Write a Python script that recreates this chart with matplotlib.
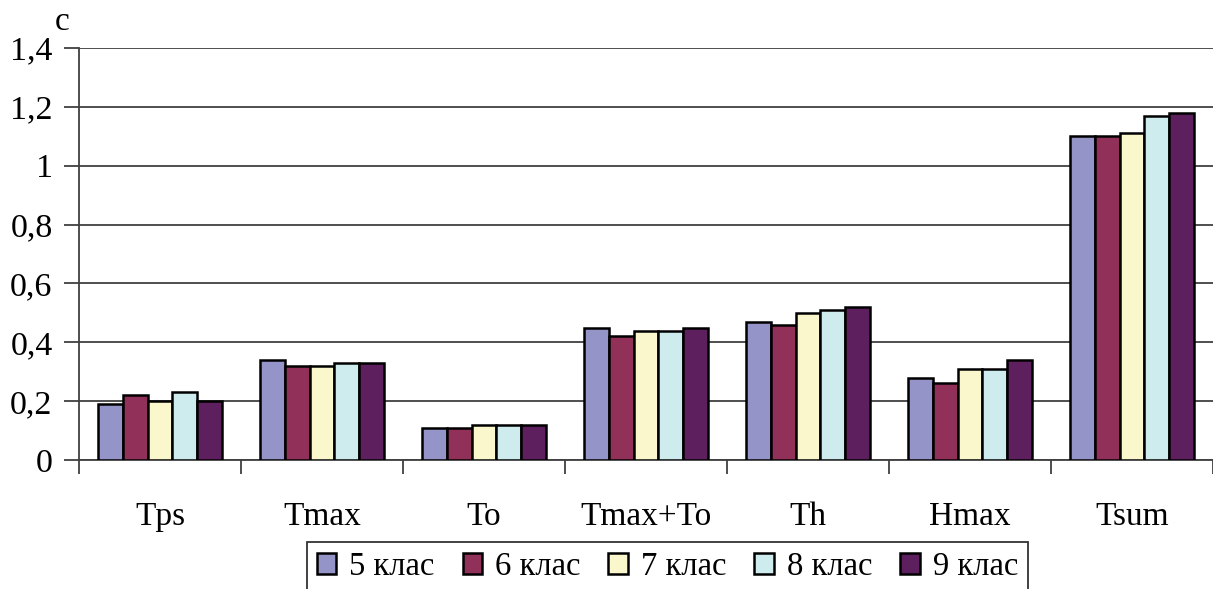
import numpy as np
import matplotlib.pyplot as plt
from matplotlib.ticker import FixedLocator, FuncFormatter

categories = ["Tps", "Tmax", "To", "Tmax+To", "Th", "Hmax", "Tsum"]
series_names = ["5 клас", "6 клас", "7 клас", "8 клас", "9 клас"]

grade_5 = [0.19, 0.34, 0.11, 0.45, 0.47, 0.28, 1.10]
grade_6 = [0.22, 0.32, 0.11, 0.42, 0.46, 0.26, 1.10]
grade_7 = [0.20, 0.32, 0.12, 0.44, 0.50, 0.31, 1.11]
grade_8 = [0.23, 0.33, 0.12, 0.44, 0.51, 0.31, 1.17]
grade_9 = [0.20, 0.33, 0.12, 0.45, 0.52, 0.34, 1.18]

y_ticks = [0, 0.2, 0.4, 0.6, 0.8, 1.0, 1.2, 1.4]

colors = ["#9494C8", "#913058", "#FAF7CD", "#CEEBEE", "#5E1F5E"]

plt.rcParams["font.family"] = ["Liberation Serif", "DejaVu Serif"]

fig = plt.figure(figsize=(12.13, 5.89), dpi=100)
ax = fig.add_axes([79 / 1213, 1 - 460 / 589, (1213 - 79) / 1213, 412 / 589])

all_series = [grade_5, grade_6, grade_7, grade_8, grade_9]
x = np.arange(len(categories))
bar_w = 1 / 6.5

for i, (name, vals) in enumerate(zip(series_names, all_series)):
    offset = (i - 2) * bar_w
    ax.bar(
        x + offset,
        vals,
        width=bar_w,
        color=colors[i],
        edgecolor="black",
        linewidth=1.8,
        label=name,
        zorder=3,
    )

ax.set_xlim(-0.5, len(categories) - 0.5)
ax.set_ylim(0, 1.4)

ax.set_yticks(y_ticks)
ax.yaxis.set_major_formatter(
    FuncFormatter(lambda v, p: f"{v:g}".replace(".", ","))
)
ax.grid(axis="y", color="#404040", linewidth=1.3, zorder=0)

ax.set_xticks(x)
ax.set_xticklabels(categories)
ax.xaxis.set_minor_locator(FixedLocator(np.arange(-0.5, len(categories), 1)))
ax.tick_params(axis="x", which="major", length=0, pad=30, labelsize=24)
ax.tick_params(axis="x", which="minor", length=10, width=1.3, color="#404040")
ax.tick_params(axis="y", length=11, width=1.3, color="#404040", labelsize=24.5, pad=8)

for side in ["top", "right"]:
    ax.spines[side].set_visible(False)
for side in ["left", "bottom"]:
    ax.spines[side].set_color("#404040")
    ax.spines[side].set_linewidth(1.3)

ax.text(-0.021, 1.044, "c", transform=ax.transAxes, fontsize=24, ha="left", va="baseline")

leg = fig.legend(
    loc="upper left",
    bbox_to_anchor=(307 / 1213, 1 - 542 / 589),
    borderaxespad=0,
    ncol=5,
    fontsize=23.5,
    frameon=True,
    fancybox=False,
    edgecolor="black",
    handlelength=0.6,
    handleheight=0.6,
    handletextpad=0.4,
    columnspacing=0.85,
    borderpad=0.3,
)
leg.get_frame().set_linewidth(1.3)

plt.savefig("out.png", dpi=100)
